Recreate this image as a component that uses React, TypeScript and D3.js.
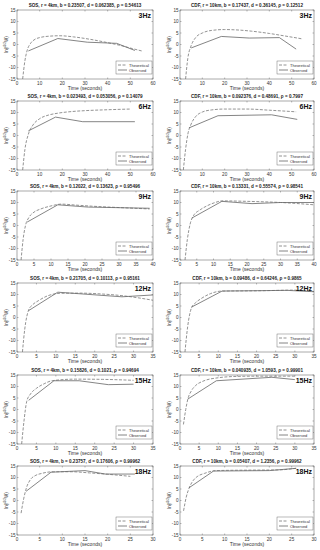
import React from "react";
import * as d3 from "d3";

const titles = [
  "SOS, r = 4km, b = 0.23507, d = 0.062385, ρ = 0.54613",
  "CDF, r = 10km, b = 0.17437, d = 0.36145, ρ = 0.12512",
  "SOS, r = 4km, b = 0.023493, d = 0.053056, ρ = 0.14079",
  "CDF, r = 10km, b = 0.092376, d = 0.48691, ρ = 0.7997",
  "SOS, r = 4km, b = 0.12022, d = 0.13623, ρ = 0.95496",
  "CDF, r = 10km, b = 0.13331, d = 0.55574, ρ = 0.98541",
  "SOS, r = 4km, b = 0.21705, d = 0.10113, ρ = 0.95161",
  "CDF, r = 10km, b = 0.09486, d = 0.64246, ρ = 0.9865",
  "SOS, r = 4km, b = 0.15826, d = 0.1021, ρ = 0.94694",
  "CDF, r = 10km, b = 0.040935, d = 1.0593, ρ = 0.99901",
  "SOS, r = 4km, b = 0.23757, d = 0.17606, ρ = 0.99962",
  "CDF, r = 10km, b = 0.05407, d = 1.2356, ρ = 0.99962",
];
const freqLabels = ["3Hz", "3Hz", "6Hz", "6Hz", "9Hz", "9Hz", "12Hz", "12Hz", "15Hz", "15Hz", "18Hz", "18Hz"];
const xMaxes = [60, 60, 60, 60, 40, 40, 35, 35, 35, 35, 30, 30];
const xSteps = [10, 10, 10, 10, 5, 5, 5, 5, 5, 5, 5, 5];
const yTicks = [-15, -10, -5, 0, 5, 10, 15];
const legendLabels = ["Theoretical", "Observed"];

const sos3Theo = [[2.5, -15], [3.5, -7], [4.5, -2.5], [6, 0.5], [8, 2.3], [10, 3.0], [14, 3.6], [19, 3.8], [25, 3.3], [32, 2.3], [40, 0.8], [46, -0.5], [51, -1.8], [55, -2.8]];
const sos3Obs = [[5, -2.8], [18, 2.6], [31, 1.0], [44, 0.5], [52, -2.6]];
const cdf3Theo = [[2.5, -15], [3.5, -6], [5, -0.5], [7, 3], [10, 5], [14, 6.1], [20, 6.5], [26, 6.3], [32, 5.8], [40, 4.8], [47, 3.7], [55, 2.4]];
const cdf3Obs = [[5, -1.5], [18.5, 3.5], [31, 2.8], [44.5, 3.0], [52, -2.0]];
const sos6Theo = [[2.5, -15], [3.5, -6], [5, 0.5], [7, 4.5], [10, 7.3], [14, 8.9], [18, 9.7], [24, 10.4], [30, 10.8], [40, 11.2], [50, 11.5]];
const sos6Obs = [[5, 2.0], [17, 8.0], [29, 6.0], [52, 6.0]];
const cdf6Theo = [[1.5, -15], [2.5, -6], [3.5, 0.5], [5, 5], [7, 8.2], [10, 10.2], [14, 11.1], [20, 11.5], [30, 11.5], [40, 11.0], [52, 10.3]];
const cdf6Obs = [[4, 3.3], [17, 8.6], [41, 9.0], [52.5, 7.0]];
const sos9Theo = [[1.2, -15], [1.8, -6], [2.5, 0], [3.5, 3.5], [5, 5.8], [7, 7.2], [10, 8.5], [13, 9.3], [17, 8.9], [22, 8.4], [30, 7.8], [39, 7.2]];
const sos9Obs = [[3, 1.5], [12, 9.0], [21, 8.0], [39, 7.5]];
const cdf9Theo = [[1.5, -15], [2.2, -6], [3, 0.5], [4, 4.2], [6, 6.8], [8, 8.5], [10.5, 10.0], [12.5, 10.7], [20, 10.5], [30, 10.0], [40, 9.0]];
const cdf9Obs = [[3.5, 3.2], [12.5, 10.5], [21.5, 9.5], [30, 10.0], [40, 10.0]];
const sos12Theo = [[1.4, -15], [2, -5], [3, 3.3], [4, 5.5], [5.5, 7.3], [8, 9.5], [11, 10.5], [16, 10.6], [22, 10.2], [27, 9.5], [31, 8.6], [35, 7.5]];
const sos12Obs = [[3, 3.0], [10.5, 11.0], [27, 9.0], [35, 9.8]];
const cdf12Theo = [[1.3, -15], [2, -4], [3, 4.2], [4, 6.3], [5.5, 8.2], [8, 10.4], [11, 11.5], [20, 11.6], [30, 11.9], [35, 11.3]];
const cdf12Obs = [[3, 4.5], [11, 11.5], [28, 11.8], [35, 11.2]];
const sos15Theo = [[1.2, -15], [1.8, -5], [2.5, 3.5], [3.5, 6.8], [5, 9.2], [7, 11.2], [9, 12.5], [15, 13.2], [22, 13.1], [30, 12.7]];
const sos15Obs = [[3, 4.0], [9.5, 12.5], [16, 12.5], [23.5, 10.8], [30, 11.0]];
const cdf15Theo = [[0.9, -6.5], [1.5, 0], [2, 4.2], [3, 8.2], [4, 10.3], [6, 12.3], [10, 13.8], [15, 14.4], [20, 14.5], [30, 14.5]];
const cdf15Obs = [[2, 4.5], [9.5, 12.5], [24, 14.0], [30, 13.0]];
const sos18Theo = [[0.9, -5.5], [1.5, 1], [2, 5], [3, 9.2], [4, 10.8], [5.5, 11.8], [8, 12.5], [12, 12.5], [16, 12.0], [20, 11.4], [25, 10.5]];
const sos18Obs = [[2, 4.0], [7.5, 12.3], [15, 13.0], [19.5, 11.5], [26, 11.5]];
const cdf18Theo = [[0.8, -4.5], [1.4, 1.5], [2, 5.2], [3, 8.8], [4, 10.6], [5.5, 11.8], [8, 13.0], [15, 13.2], [22, 13.3], [26, 14.0]];
const cdf18Obs = [[2, 5.5], [7.5, 12.8], [20, 13.0], [26, 14.0]];

const theoSeries = [sos3Theo, cdf3Theo, sos6Theo, cdf6Theo, sos9Theo, cdf9Theo, sos12Theo, cdf12Theo, sos15Theo, cdf15Theo, sos18Theo, cdf18Theo];
const obsSeries = [sos3Obs, cdf3Obs, sos6Obs, cdf6Obs, sos9Obs, cdf9Obs, sos12Obs, cdf12Obs, sos15Obs, cdf15Obs, sos18Obs, cdf18Obs];

const rowTops = [10, 101, 191, 283, 375, 466];
const colLefts = [17, 180];
const colRights = [153, 314];
const axH = 69;
const FONT = "Liberation Sans, Arial, sans-serif";

function Panel({ i }: { i: number }) {
  const row = Math.floor(i / 2);
  const col = i % 2;
  const x0 = colLefts[col];
  const x1 = colRights[col];
  const top = rowTops[row];
  const bottom = top + axH;
  const x = d3.scaleLinear().domain([0, xMaxes[i]]).range([x0, x1]);
  const y = d3.scaleLinear().domain([-15, 15]).range([bottom, top]);
  const xTicks = d3.range(0, xMaxes[i] + 0.001, xSteps[i]);
  const line = d3.line<number[]>().x((d) => x(d[0])).y((d) => y(d[1]));
  const smooth = d3.line<number[]>().x((d) => x(d[0])).y((d) => y(d[1])).curve(d3.curveMonotoneX);
  const cx = (x0 + x1) / 2;
  const lgX0 = x1 - 37;
  const lgY0 = bottom - 18;
  return (
    <g>
      <text x={cx} y={top - 3} textAnchor="middle" fontSize={4.6} fontWeight="bold" fontFamily={FONT} fill="#222">
        {titles[i]}
      </text>
      <rect x={x0} y={top} width={x1 - x0} height={axH} fill="white" stroke="#555" strokeWidth={0.5} />
      {xTicks.map((t) => (
        <g key={"x" + t}>
          <line x1={x(t)} x2={x(t)} y1={bottom} y2={bottom - 1.5} stroke="#555" strokeWidth={0.4} />
          <line x1={x(t)} x2={x(t)} y1={top} y2={top + 1.5} stroke="#555" strokeWidth={0.4} />
          <text x={x(t)} y={bottom + 5.5} textAnchor="middle" fontSize={4.6} fontFamily={FONT} fill="#333">{t}</text>
        </g>
      ))}
      {yTicks.map((t) => (
        <g key={"y" + t}>
          <line x1={x0} x2={x0 + 1.5} y1={y(t)} y2={y(t)} stroke="#555" strokeWidth={0.4} />
          <line x1={x1} x2={x1 - 1.5} y1={y(t)} y2={y(t)} stroke="#555" strokeWidth={0.4} />
          <text x={x0 - 1.5} y={y(t) + 1.6} textAnchor="end" fontSize={4.6} fontFamily={FONT} fill="#333">{t}</text>
        </g>
      ))}
      <text x={cx} y={bottom + 11} textAnchor="middle" fontSize={5} fontFamily={FONT} fill="#333">Time (seconds)</text>
      <text transform={`translate(${x0 - 9.5},${(top + bottom) / 2}) rotate(-90)`} textAnchor="middle" fontSize={4.6} fontFamily={FONT} fill="#333">
        ln(f<tspan dy={-1.5} fontSize={3.2}>3/2</tspan><tspan dy={1.5}>W)</tspan>
      </text>
      <path d={smooth(theoSeries[i]) || ""} fill="none" stroke="#777" strokeWidth={0.8} strokeDasharray="3,1.5" />
      <path d={line(obsSeries[i]) || ""} fill="none" stroke="#666" strokeWidth={0.8} />
      <text x={x1 - 2} y={top + 8} textAnchor="end" fontSize={7} fontWeight="bold" fontFamily={FONT} fill="#111">{freqLabels[i]}</text>
      <rect x={lgX0} y={lgY0} width={36} height={13} fill="white" stroke="#555" strokeWidth={0.4} />
      {legendLabels.map((lab, k) => (
        <g key={lab}>
          <line x1={lgX0 + 2} x2={lgX0 + 11} y1={lgY0 + 4 + k * 5} y2={lgY0 + 4 + k * 5} stroke={k === 0 ? "#777" : "#666"} strokeWidth={0.8} strokeDasharray={k === 0 ? "3,1.5" : undefined} />
          <text x={lgX0 + 13} y={lgY0 + 5.5 + k * 5} fontSize={4} fontFamily={FONT} fill="#333">{lab}</text>
        </g>
      ))}
    </g>
  );
}

export default function App() {
  return (
    <svg width={320} height={550} style={{ position: "absolute", left: 0, top: 0, background: "white" }}>
      <rect x={0} y={0} width={320} height={550} fill="white" />
      {titles.map((_, i) => (
        <Panel key={i} i={i} />
      ))}
    </svg>
  );
}
